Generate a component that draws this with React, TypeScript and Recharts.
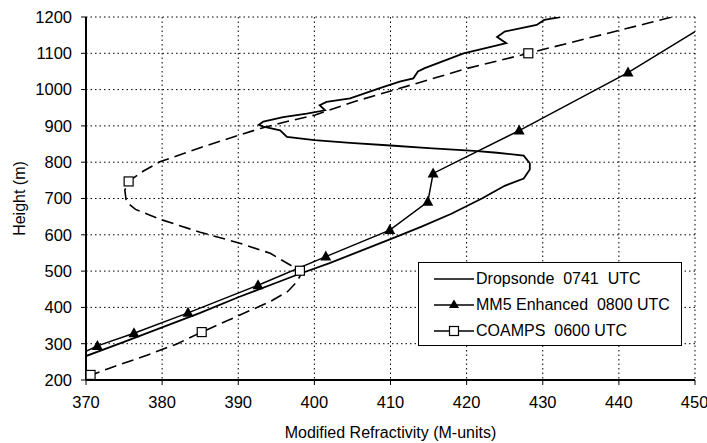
import { ScatterChart, Scatter, XAxis, YAxis, CartesianGrid, Legend } from "recharts";

// Dropsonde 0741 UTC profile (M-units, height m)
const dropM = [370, 375, 380, 385, 390, 395, 398, 402, 406, 410, 414, 418, 422, 425, 427.5, 428.3, 428.3, 427.5, 424, 421, 415, 410, 404.7, 400, 396.4, 395.5, 393.3, 392.7, 393.3, 395.9, 399, 401.4, 400.7, 401.6, 404.7, 408.6, 411.2, 413, 413.6, 414.5, 419.6, 424, 425.2, 424, 425, 429.2, 430.2, 432.3];
const dropH = [266, 305, 345, 385, 428, 468, 492, 522, 555, 588, 622, 658, 700, 735, 755, 780, 797, 818, 826, 831, 839, 846, 853, 861, 870, 888, 898, 903, 912, 924, 934, 943, 957, 966, 976, 1004, 1022, 1031, 1050, 1059, 1100, 1122, 1128, 1145, 1160, 1178, 1192, 1200];

// MM5 Enhanced 0800 UTC (first and last entries are line ends without a marker)
const mm5M = [370, 371.5, 376.3, 383.4, 392.6, 401.5, 409.9, 414.9, 415.6, 426.9, 441.2, 450];
const mm5H = [279, 294, 329, 385, 461, 540, 613, 691, 769, 887, 1047, 1160];

// COAMPS 0600 UTC curve
const coampsM = [370.3, 373, 378, 382, 385.2, 390, 394.2, 396.5, 397.5, 398.1, 398.1, 394.2, 390.2, 385, 379.7, 376.5, 375.3, 375.1, 375.6, 377.5, 379.7, 385, 390.2, 392.9, 396, 400.1, 405.1, 413.4, 420, 428.1, 436, 444, 447];
const coampsH = [210, 232, 268, 300, 332, 377, 416, 444, 466, 485, 501, 549, 577, 607, 643, 670, 691, 723, 747, 775, 801, 840, 875, 893, 910, 930, 966, 1017, 1058, 1100, 1142, 1184, 1200];
// COAMPS output levels (markers)
const coampsMarkM = [370.6, 385.2, 398.1, 375.6, 428.1];
const coampsMarkH = [214, 332, 501, 747, 1100];

const xTicks = [370, 380, 390, 400, 410, 420, 430, 440, 450];
const yTicks = [200, 300, 400, 500, 600, 700, 800, 900, 1000, 1100, 1200];

const zip = (m: number[], h: number[]) => m.map((x, i) => ({ x, y: h[i] }));

const dropData = zip(dropM, dropH);
const mm5Data = zip(mm5M, mm5H);
const mm5Marks = mm5Data.slice(1, -1);
const coampsData = zip(coampsM, coampsH);
const coampsMarks = zip(coampsMarkM, coampsMarkH);

const FONT = "'Liberation Sans', Arial, sans-serif";

const noDot = () => <g />;
const triangle = (p: any) => (
  <polygon
    points={`${p.cx},${p.cy - 6} ${p.cx - 5.5},${p.cy + 4} ${p.cx + 5.5},${p.cy + 4}`}
    fill="#000"
  />
);
const square = (p: any) => (
  <rect x={p.cx - 4.5} y={p.cy - 4.5} width={9} height={9} fill="#fff" stroke="#000" strokeWidth={1.2} />
);

function LegendBox() {
  const rows = [
    { label: "Dropsonde  0741  UTC", mark: null },
    { label: "MM5 Enhanced  0800 UTC", mark: "tri" },
    { label: "COAMPS  0600 UTC", mark: "sq" },
  ];
  return (
    <div
      style={{
        width: 264,
        height: 84,
        border: "1.5px solid #000",
        background: "#fff",
        fontFamily: FONT,
        fontSize: 16,
        color: "#000",
        paddingTop: 3,
        boxSizing: "border-box",
        textAlign: "left",
      }}
    >
      {rows.map((r) => (
        <div key={r.label} style={{ display: "flex", alignItems: "center", height: 26 }}>
          <svg width={57} height={14} style={{ flex: "none" }}>
            <line x1={15} y1={7} x2={55} y2={7} stroke="#000" strokeWidth={1.3} />
            {r.mark === "tri" && <polygon points="35,1.5 30,10 40,10" fill="#000" />}
            {r.mark === "sq" && <rect x={30.5} y={2.5} width={9} height={9} fill="#fff" stroke="#000" strokeWidth={1.2} />}
          </svg>
          <span style={{ whiteSpace: "pre" }}>{r.label}</span>
        </div>
      ))}
    </div>
  );
}

export default function App() {
  const tick = { fill: "#000", fontSize: 16.5, fontFamily: FONT };
  return (
    <div style={{ position: "absolute", left: 0, top: 0, background: "#fff" }}>
      <ScatterChart width={707} height={443} margin={{ top: 17, right: 12, left: 0, bottom: 0 }}>
        <CartesianGrid stroke="#000" strokeDasharray="1.5 3" />
        <XAxis
          type="number"
          dataKey="x"
          domain={[370, 450]}
          ticks={xTicks}
          allowDataOverflow
          height={63}
          tick={tick}
          tickSize={5}
          tickMargin={11}
          axisLine={{ stroke: "#000", strokeWidth: 2 }}
          tickLine={{ stroke: "#000" }}
          label={{ value: "Modified Refractivity (M-units)", position: "insideBottom", offset: 5, fill: "#000", fontSize: 16, fontFamily: FONT }}
        />
        <YAxis
          type="number"
          dataKey="y"
          domain={[200, 1200]}
          ticks={yTicks}
          allowDataOverflow
          width={86}
          tick={tick}
          tickSize={5}
          tickMargin={9}
          axisLine={{ stroke: "#000", strokeWidth: 2 }}
          tickLine={{ stroke: "#000" }}
          label={{ value: "Height (m)", angle: -90, position: "insideLeft", offset: 19, fill: "#000", fontSize: 16, fontFamily: FONT, style: { textAnchor: "middle" } }}
        />
        <Legend
          layout="horizontal"
          verticalAlign="middle"
          align="center"
          content={() => <LegendBox />}
          wrapperStyle={{ position: "absolute", left: 418, top: 262, width: 264, height: 84 }}
        />
        <Scatter data={dropData} line={{ stroke: "#000", strokeWidth: 1.8 }} shape={noDot} isAnimationActive={false} />
        <Scatter data={mm5Data} line={{ stroke: "#000", strokeWidth: 1.5 }} shape={noDot} isAnimationActive={false} />
        <Scatter data={mm5Marks} shape={triangle} isAnimationActive={false} />
        <Scatter data={coampsData} line={{ stroke: "#000", strokeWidth: 1.6, strokeDasharray: "12 6" }} shape={noDot} isAnimationActive={false} />
        <Scatter data={coampsMarks} shape={square} isAnimationActive={false} />
      </ScatterChart>
    </div>
  );
}
